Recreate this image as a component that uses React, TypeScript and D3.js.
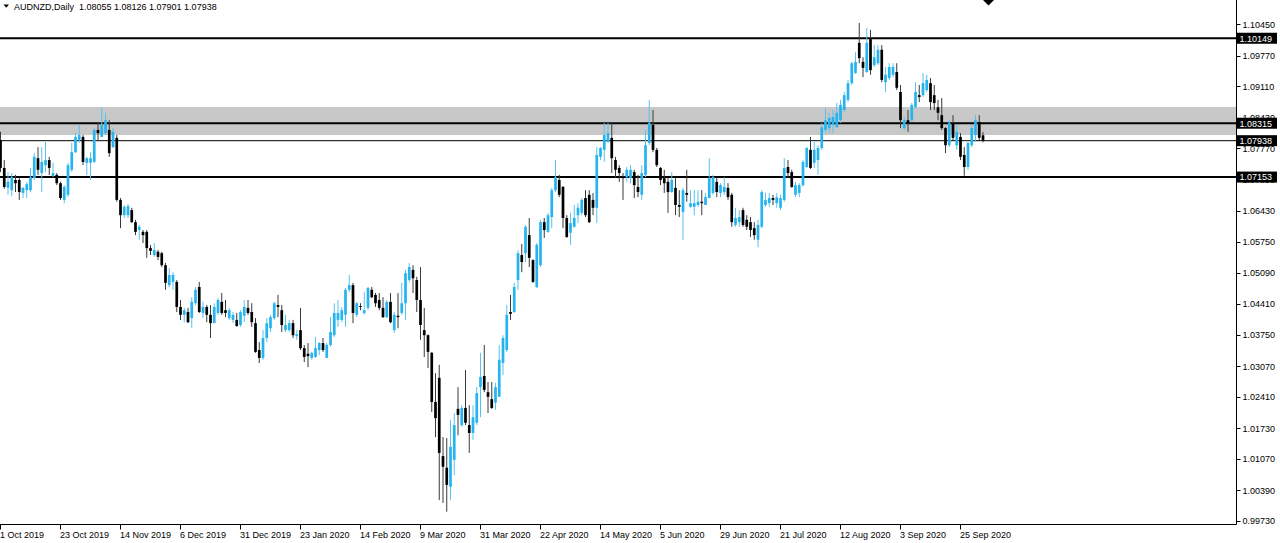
import React from 'react';
import * as d3 from 'd3';

const symbolTitle = 'AUDNZD,Daily';
const lastBarText = '1.08055 1.08126 1.07901 1.07938';

const open = [
  1.0795, 1.0735, 1.0692, 1.0687, 1.0709, 1.0709, 1.0681, 1.0687, 1.0687, 1.0713,
  1.0756, 1.0724, 1.0741, 1.0752, 1.0718, 1.0720, 1.0702, 1.0666, 1.0677, 1.0731,
  1.0769, 1.0795, 1.0802, 1.0746, 1.0746, 1.0748, 1.0817, 1.0802, 1.0810, 1.0817,
  1.0780, 1.0800, 1.0666, 1.0633, 1.0633, 1.0644, 1.0618, 1.0601, 1.0597, 1.0597,
  1.0562, 1.0547, 1.0554, 1.0551, 1.0525, 1.0482, 1.0489, 1.0489, 1.0435, 1.0418,
  1.0424, 1.0411, 1.0443, 1.0478, 1.0422, 1.0435, 1.0418, 1.0400, 1.0422, 1.0446,
  1.0428, 1.0411, 1.0407, 1.0407, 1.0396, 1.0416, 1.0433, 1.0424, 1.0400, 1.0342,
  1.0325, 1.0368, 1.0389, 1.0411, 1.0439, 1.0428, 1.0385, 1.0385, 1.0400, 1.0372,
  1.0385, 1.0346, 1.0334, 1.0325, 1.0327, 1.0342, 1.0357, 1.0325, 1.0353, 1.0374,
  1.0407, 1.0407, 1.0418, 1.0472, 1.0482, 1.0418, 1.0437, 1.0422, 1.0433, 1.0472,
  1.0461, 1.0450, 1.0433, 1.0413, 1.0446, 1.0385, 1.0416, 1.0422, 1.0443, 1.0493,
  1.0515, 1.0493, 1.0450, 1.0385, 1.0374, 1.0336, 1.0230, 1.0282, 1.0113, 1.0088,
  1.0047, 1.0105, 1.0215, 1.0180, 1.0217, 1.0180, 1.0163, 1.0185, 1.0262, 1.0286,
  1.0251, 1.0236, 1.0228, 1.0241, 1.0314, 1.0342, 1.0424, 1.0424, 1.0493, 1.0547,
  1.0551, 1.0590, 1.0536, 1.0478, 1.0525, 1.0618, 1.0597, 1.0629, 1.0687, 1.0709,
  1.0694, 1.0627, 1.0595, 1.0608, 1.0633, 1.0638, 1.0670, 1.0677, 1.0666, 1.0649,
  1.0759, 1.0774, 1.0791, 1.0800, 1.0752, 1.0735, 1.0715, 1.0715, 1.0713, 1.0726,
  1.0694, 1.0677, 1.0720, 1.0789, 1.0828, 1.0774, 1.0735, 1.0713, 1.0705, 1.0683,
  1.0692, 1.0655, 1.0640, 1.0681, 1.0651, 1.0651, 1.0655, 1.0662, 1.0655, 1.0670,
  1.0681, 1.0705, 1.0681, 1.0683, 1.0692, 1.0677, 1.0612, 1.0618, 1.0644, 1.0623,
  1.0618, 1.0605, 1.0580, 1.0608, 1.0655, 1.0659, 1.0670, 1.0659, 1.0649, 1.0666,
  1.0737, 1.0726, 1.0677, 1.0681, 1.0698, 1.0737, 1.0774, 1.0746, 1.0752, 1.0778,
  1.0817, 1.0821, 1.0828, 1.0823, 1.0838, 1.0860, 1.0882, 1.0918, 1.0940, 1.1005,
  1.0964, 1.0942, 1.1015, 1.0957, 1.0961, 1.0990, 1.0920, 1.0929, 1.0936, 1.0942,
  1.0899, 1.0821, 1.0838, 1.0838, 1.0866, 1.0892, 1.0892, 1.0903, 1.0918, 1.0892,
  1.0866, 1.0849, 1.0821, 1.0784, 1.0832, 1.0784, 1.0802, 1.0763, 1.0737, 1.0784,
  1.0806, 1.0834, 1.08055,
];

const high = [
  1.0813, 1.0752, 1.0726, 1.0724, 1.0720, 1.0713, 1.0694, 1.0705, 1.0735, 1.0767,
  1.0780, 1.0780, 1.0791, 1.0759, 1.0746, 1.0724, 1.0705, 1.0698, 1.0746, 1.0789,
  1.0810, 1.0828, 1.0806, 1.0759, 1.0769, 1.0821, 1.0834, 1.0866, 1.0854, 1.0838,
  1.0821, 1.0806, 1.0670, 1.0655, 1.0657, 1.0649, 1.0623, 1.0612, 1.0601, 1.0601,
  1.0569, 1.0573, 1.0558, 1.0554, 1.0530, 1.0519, 1.0510, 1.0493, 1.0450, 1.0433,
  1.0433, 1.0456, 1.0478, 1.0489, 1.0446, 1.0439, 1.0439, 1.0443, 1.0454, 1.0465,
  1.0450, 1.0433, 1.0424, 1.0422, 1.0428, 1.0450, 1.0450, 1.0443, 1.0411, 1.0359,
  1.0385, 1.0411, 1.0418, 1.0446, 1.0461, 1.0439, 1.0418, 1.0407, 1.0407, 1.0385,
  1.0433, 1.0353, 1.0357, 1.0338, 1.0370, 1.0359, 1.0368, 1.0357, 1.0413, 1.0443,
  1.0450, 1.0435, 1.0476, 1.0504, 1.0487, 1.0446, 1.0443, 1.0467, 1.0478, 1.0478,
  1.0465, 1.0465, 1.0456, 1.0450, 1.0465, 1.0424, 1.0465, 1.0487, 1.0515, 1.0530,
  1.0525, 1.0500, 1.0521, 1.0433, 1.0376, 1.0338, 1.0292, 1.0310, 1.0154, 1.0152,
  1.0191, 1.0206, 1.0262, 1.0223, 1.0299, 1.0223, 1.0223, 1.0262, 1.0336, 1.0353,
  1.0273, 1.0273, 1.0271, 1.0353, 1.0374, 1.0439, 1.0461, 1.0487, 1.0558, 1.0571,
  1.0612, 1.0627, 1.0538, 1.0573, 1.0623, 1.0627, 1.0638, 1.0692, 1.0752, 1.0720,
  1.0696, 1.0633, 1.0638, 1.0655, 1.0659, 1.0670, 1.0687, 1.0687, 1.0681, 1.0780,
  1.0780, 1.0832, 1.0832, 1.0832, 1.0759, 1.0741, 1.0724, 1.0737, 1.0741, 1.0731,
  1.0720, 1.0741, 1.0817, 1.0882, 1.0860, 1.0778, 1.0737, 1.0731, 1.0713, 1.0726,
  1.0713, 1.0687, 1.0692, 1.0731, 1.0687, 1.0687, 1.0687, 1.0687, 1.0681, 1.0756,
  1.0720, 1.0715, 1.0702, 1.0715, 1.0702, 1.0681, 1.0649, 1.0644, 1.0649, 1.0633,
  1.0629, 1.0618, 1.0623, 1.0687, 1.0681, 1.0681, 1.0677, 1.0681, 1.0677, 1.0756,
  1.0752, 1.0731, 1.0705, 1.0702, 1.0752, 1.0780, 1.0802, 1.0791, 1.0784, 1.0832,
  1.0864, 1.0854, 1.0860, 1.0875, 1.0882, 1.0899, 1.0925, 1.0964, 1.0985, 1.1048,
  1.0974, 1.1037, 1.1033, 1.1000, 1.1000, 1.1000, 1.0953, 1.0961, 1.0961, 1.0961,
  1.0914, 1.0845, 1.0860, 1.0875, 1.0920, 1.0914, 1.0940, 1.0936, 1.0929, 1.0914,
  1.0882, 1.0886, 1.0823, 1.0838, 1.0849, 1.0828, 1.0810, 1.0780, 1.0791, 1.0828,
  1.0849, 1.0849, 1.08126,
];

const low = [
  1.0726, 1.0690, 1.0677, 1.0674, 1.0683, 1.0666, 1.0670, 1.0670, 1.0683, 1.0709,
  1.0720, 1.0683, 1.0726, 1.0720, 1.0715, 1.0698, 1.0666, 1.0659, 1.0672, 1.0726,
  1.0767, 1.0789, 1.0741, 1.0720, 1.0709, 1.0746, 1.0795, 1.0802, 1.0806, 1.0759,
  1.0778, 1.0662, 1.0605, 1.0627, 1.0627, 1.0616, 1.0590, 1.0580, 1.0573, 1.0541,
  1.0547, 1.0543, 1.0536, 1.0521, 1.0472, 1.0478, 1.0472, 1.0424, 1.0407, 1.0402,
  1.0400, 1.0389, 1.0439, 1.0422, 1.0411, 1.0402, 1.0368, 1.0400, 1.0418, 1.0418,
  1.0413, 1.0407, 1.0400, 1.0392, 1.0392, 1.0402, 1.0418, 1.0392, 1.0336, 1.0314,
  1.0321, 1.0359, 1.0381, 1.0407, 1.0413, 1.0381, 1.0381, 1.0381, 1.0368, 1.0364,
  1.0342, 1.0316, 1.0305, 1.0321, 1.0325, 1.0331, 1.0338, 1.0325, 1.0349, 1.0370,
  1.0392, 1.0402, 1.0392, 1.0467, 1.0400, 1.0413, 1.0428, 1.0418, 1.0428, 1.0454,
  1.0435, 1.0428, 1.0411, 1.0411, 1.0400, 1.0379, 1.0389, 1.0418, 1.0407, 1.0489,
  1.0465, 1.0424, 1.0364, 1.0327, 1.0303, 1.0208, 1.0154, 1.0018, 1.0012, 0.9993,
  1.0018, 1.0072, 1.0158, 1.0176, 1.0180, 1.0120, 1.0148, 1.0180, 1.0197, 1.0251,
  1.0206, 1.0215, 1.0213, 1.0241, 1.0288, 1.0338, 1.0407, 1.0422, 1.0472, 1.0510,
  1.0532, 1.0521, 1.0487, 1.0476, 1.0521, 1.0584, 1.0595, 1.0605, 1.0683, 1.0672,
  1.0605, 1.0584, 1.0569, 1.0606, 1.0616, 1.0633, 1.0629, 1.0616, 1.0633, 1.0616,
  1.0752, 1.0748, 1.0789, 1.0724, 1.0713, 1.0705, 1.0666, 1.0705, 1.0702, 1.0670,
  1.0672, 1.0666, 1.0715, 1.0784, 1.0769, 1.0737, 1.0698, 1.0681, 1.0638, 1.0681,
  1.0633, 1.0629, 1.0580, 1.0662, 1.0649, 1.0633, 1.0651, 1.0633, 1.0655, 1.0670,
  1.0677, 1.0672, 1.0672, 1.0677, 1.0666, 1.0608, 1.0608, 1.0608, 1.0608, 1.0601,
  1.0586, 1.0580, 1.0564, 1.0605, 1.0651, 1.0651, 1.0655, 1.0649, 1.0644, 1.0662,
  1.0713, 1.0692, 1.0672, 1.0672, 1.0694, 1.0735, 1.0733, 1.0735, 1.0720, 1.0774,
  1.0810, 1.0810, 1.0810, 1.0821, 1.0832, 1.0856, 1.0877, 1.0914, 1.0938, 1.0961,
  1.0931, 1.0940, 1.0936, 1.0953, 1.0957, 1.0920, 1.0899, 1.0925, 1.0931, 1.0903,
  1.0821, 1.0817, 1.0813, 1.0834, 1.0864, 1.0877, 1.0888, 1.0899, 1.0860, 1.0860,
  1.0838, 1.0817, 1.0767, 1.0780, 1.0795, 1.0774, 1.0752, 1.0718, 1.0731, 1.0780,
  1.0791, 1.0795, 1.07901,
];

const close = [
  1.0735, 1.0694, 1.0705, 1.0715, 1.0702, 1.0683, 1.0692, 1.0700, 1.0715, 1.0759,
  1.0731, 1.0748, 1.0752, 1.0735, 1.0724, 1.0702, 1.0670, 1.0694, 1.0741, 1.0769,
  1.0802, 1.0806, 1.0748, 1.0756, 1.0756, 1.0817, 1.0810, 1.0828, 1.0838, 1.0767,
  1.0813, 1.0666, 1.0633, 1.0651, 1.0653, 1.0618, 1.0597, 1.0608, 1.0590, 1.0562,
  1.0556, 1.0558, 1.0543, 1.0525, 1.0487, 1.0504, 1.0504, 1.0435, 1.0418, 1.0428,
  1.0402, 1.0446, 1.0472, 1.0424, 1.0435, 1.0418, 1.0400, 1.0435, 1.0450, 1.0422,
  1.0422, 1.0428, 1.0418, 1.0394, 1.0424, 1.0435, 1.0422, 1.0402, 1.0338, 1.0325,
  1.0368, 1.0400, 1.0413, 1.0443, 1.0435, 1.0396, 1.0396, 1.0400, 1.0374, 1.0376,
  1.0346, 1.0327, 1.0329, 1.0336, 1.0346, 1.0357, 1.0342, 1.0353, 1.0381, 1.0422,
  1.0422, 1.0428, 1.0472, 1.0482, 1.0422, 1.0443, 1.0435, 1.0428, 1.0476, 1.0456,
  1.0443, 1.0433, 1.0413, 1.0446, 1.0402, 1.0418, 1.0413, 1.0443, 1.0508, 1.0521,
  1.0497, 1.0450, 1.0396, 1.0374, 1.0338, 1.0230, 1.0195, 1.0120, 1.0090, 1.0051,
  1.0133, 1.0180, 1.0202, 1.0217, 1.0185, 1.0163, 1.0197, 1.0249, 1.0284, 1.0256,
  1.0241, 1.0217, 1.0262, 1.0321, 1.0368, 1.0418, 1.0420, 1.0478, 1.0551, 1.0532,
  1.0608, 1.0541, 1.0489, 1.0569, 1.0618, 1.0601, 1.0633, 1.0687, 1.0715, 1.0677,
  1.0627, 1.0586, 1.0616, 1.0627, 1.0649, 1.0666, 1.0633, 1.0618, 1.0649, 1.0763,
  1.0778, 1.0806, 1.0810, 1.0756, 1.0731, 1.0724, 1.0713, 1.0731, 1.0731, 1.0698,
  1.0683, 1.0724, 1.0784, 1.0832, 1.0774, 1.0741, 1.0709, 1.0702, 1.0683, 1.0709,
  1.0655, 1.0651, 1.0687, 1.0677, 1.0659, 1.0659, 1.0662, 1.0659, 1.0672, 1.0713,
  1.0715, 1.0683, 1.0698, 1.0694, 1.0672, 1.0618, 1.0627, 1.0629, 1.0612, 1.0608,
  1.0601, 1.0590, 1.0612, 1.0683, 1.0666, 1.0670, 1.0666, 1.0672, 1.0670, 1.0735,
  1.0724, 1.0694, 1.0698, 1.0698, 1.0748, 1.0778, 1.0735, 1.0774, 1.0778, 1.0823,
  1.0838, 1.0843, 1.0845, 1.0854, 1.0871, 1.0892, 1.0918, 1.0961, 1.0964, 1.0972,
  1.0951, 1.1005, 1.0946, 1.0974, 1.0990, 1.0925, 1.0936, 1.0953, 1.0953, 1.0908,
  1.0838, 1.0838, 1.0832, 1.0871, 1.0899, 1.0888, 1.0918, 1.0925, 1.0877, 1.0875,
  1.0854, 1.0821, 1.0784, 1.0832, 1.0800, 1.0813, 1.0759, 1.0737, 1.0789, 1.0821,
  1.0838, 1.0800, 1.07938,
];

const timeLabels = [
  '1 Oct 2019', '23 Oct 2019', '14 Nov 2019', '6 Dec 2019', '31 Dec 2019',
  '23 Jan 2020', '14 Feb 2020', '9 Mar 2020', '31 Mar 2020', '22 Apr 2020',
  '14 May 2020', '5 Jun 2020', '29 Jun 2020', '21 Jul 2020', '12 Aug 2020',
  '3 Sep 2020', '25 Sep 2020',
];
const barsPerTimeLabel = 16;

const priceTicks = [
  1.1045, 1.0977, 1.0911, 1.0843, 1.0777, 1.0709, 1.0643, 1.0575, 1.0509,
  1.0441, 1.0375, 1.0307, 1.0241, 1.0173, 1.0107, 1.0039, 0.9973,
];

const levelLines = [1.10149, 1.08315, 1.07153];
const bidPrice = 1.07938;
const zoneBottom = 1.08061;
const zoneTop = 1.08665;

const FONT = '"Liberation Sans", Arial, sans-serif';
const BULL = '#27b4ee';
const BULL_WICK = '#55c3f0';
const BEAR = '#000000';
const BEAR_WICK = '#3a3a3a';

export default function App() {
  const W = 1280;
  const H = 543;
  const axisX = 1236.5;
  const axisY = 524.5;
  const n = open.length;
  const step = 3.75;

  const x = d3.scaleLinear().domain([0, n - 1]).range([0.5, 0.5 + (n - 1) * step]);
  const y = d3.scaleLinear().domain([0.9973, 1.1045]).range([521, 24.3]);
  const fmt = d3.format('.5f');

  const bodyW = 2.7;

  const candles = d3.range(n).map((i) => {
    const o = open[i];
    const c = close[i];
    const bull = c >= o;
    const cx = x(i);
    const top = y(Math.max(o, c));
    const bot = y(Math.min(o, c));
    return (
      <g key={i}>
        <line
          x1={cx}
          x2={cx}
          y1={y(high[i])}
          y2={y(low[i])}
          stroke={bull ? BULL_WICK : BEAR_WICK}
          strokeWidth={1}
        />
        <rect
          x={cx - bodyW / 2}
          y={top}
          width={bodyW}
          height={Math.max(1, bot - top)}
          fill={bull ? BULL : BEAR}
        />
      </g>
    );
  });

  const priceBox = (p: number, key: string) => {
    const cy = y(p);
    return (
      <g key={key}>
        <rect x={axisX + 0.5} y={cy - 5.5} width={40} height={11} fill="#000" />
        <text
          x={axisX + 3}
          y={cy + 3.3}
          fill="#fff"
          fontSize={9}
          fontFamily={FONT}
        >
          {fmt(p)}
        </text>
      </g>
    );
  };

  return (
    <svg
      width={W}
      height={H}
      style={{ position: 'absolute', left: 0, top: 0, background: '#fff' }}
    >
      <rect x={0} y={0} width={W} height={H} fill="#fff" />

      <rect
        x={0}
        y={y(zoneTop)}
        width={axisX}
        height={y(zoneBottom) - y(zoneTop)}
        fill="#c8c8c8"
      />

      {levelLines.map((p) => (
        <line
          key={p}
          x1={0}
          x2={axisX}
          y1={y(p)}
          y2={y(p)}
          stroke="#000"
          strokeWidth={2}
        />
      ))}
      <line x1={0} x2={axisX} y1={y(bidPrice)} y2={y(bidPrice)} stroke="#000" strokeWidth={1} />

      <g>{candles}</g>

      <line x1={axisX} x2={axisX} y1={0} y2={axisY} stroke="#000" strokeWidth={1} />
      <line x1={0} x2={axisX} y1={axisY} y2={axisY} stroke="#000" strokeWidth={1} />

      {priceTicks.map((p) => (
        <g key={p}>
          <line x1={axisX} x2={axisX + 4} y1={Math.round(y(p)) + 0.5} y2={Math.round(y(p)) + 0.5} stroke="#000" />
          <text x={axisX + 6} y={y(p) + 3.3} fontSize={9} fontFamily={FONT} fill="#000">
            {fmt(p)}
          </text>
        </g>
      ))}

      {timeLabels.map((t, k) => {
        const xi = x(k * barsPerTimeLabel);
        return (
          <g key={t}>
            <line x1={xi} x2={xi} y1={axisY} y2={axisY + 5} stroke="#000" />
            <text x={xi - 0.5} y={537.5} fontSize={9} fontFamily={FONT} fill="#000">
              {t}
            </text>
          </g>
        );
      })}

      {levelLines.map((p) => priceBox(p, 'lvl' + p))}
      {priceBox(bidPrice, 'bid')}

      <polygon points="3.5,4.5 9,4.5 6.25,7.8" fill="#000" />
      <text x={14} y={10} fontSize={9} fontFamily={FONT} fill="#000">
        <tspan>{symbolTitle}</tspan>
        <tspan dx={5}>{lastBarText}</tspan>
      </text>

      <polygon points="983,0 994,0 988.5,5.5" fill="#000" />
    </svg>
  );
}
